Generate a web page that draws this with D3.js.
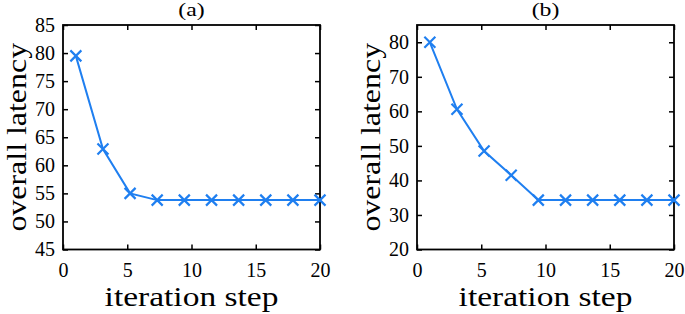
<!DOCTYPE html>
<html>
<head>
<meta charset="utf-8">
<script src="https://cdn.jsdelivr.net/npm/d3@7"></script>
<style>
  body { margin: 0; background: #fff; }
</style>
</head>
<body>
<div id="root"></div>
<script>
// iteration steps (same for both panels)
const steps = [1, 3.11, 5.22, 7.33, 9.44, 11.56, 13.67, 15.78, 17.89, 20]
const latencyA = [79.5, 62.9, 55, 53.8, 53.8, 53.8, 53.8, 53.8, 53.8, 53.8]
const latencyB = [80, 60.6, 48.5, 41.5, 34.3, 34.3, 34.3, 34.3, 34.3, 34.3]
const xTicks = [0, 5, 10, 15, 20]
const yTicksA = [45, 50, 55, 60, 65, 70, 75, 80, 85]
const yTicksB = [20, 30, 40, 50, 60, 70, 80]

const lineColor = '#1f7ff0'
const fontFamily = '"Liberation Serif"'
const svg = d3.select('#root').append('svg')
  .attr('width', 685)
  .attr('height', 314)

const panels = [
  { title: '(a)', values: latencyA, yDomain: [45, 85], yTicks: yTicksA, left: 63, right: 320 },
  { title: '(b)', values: latencyB, yDomain: [20, 85], yTicks: yTicksB, left: 417, right: 674 }
]
const plotTop = 25
const plotBottom = 249.5

// the original uses a wide LaTeX font, so labels get stretched a bit sideways
function label (g, text, size, transform) {
  return g.append('text')
    .attr('transform', transform)
    .attr('text-anchor', 'middle')
    .style('font-family', fontFamily)
    .style('font-size', size + 'px')
    .attr('fill', '#000')
    .text(text)
}

panels.forEach(p => {
  const x = d3.scaleLinear().domain([0, 20]).range([p.left, p.right])
  const y = d3.scaleLinear().domain(p.yDomain).range([plotBottom, plotTop])
  const g = svg.append('g')

  // inward ticks on all four sides
  const axes = [
    [d3.axisBottom(x).tickValues(xTicks).tickSizeInner(-5).tickSizeOuter(0).tickPadding(13), `translate(0,${plotBottom})`],
    [d3.axisTop(x).tickValues(xTicks).tickSizeInner(-5).tickSizeOuter(0).tickFormat(''), `translate(0,${plotTop})`],
    [d3.axisLeft(y).tickValues(p.yTicks).tickSizeInner(-5).tickSizeOuter(0).tickPadding(8), `translate(${p.left},0)`],
    [d3.axisRight(y).tickValues(p.yTicks).tickSizeInner(-5).tickSizeOuter(0).tickFormat(''), `translate(${p.right},0)`]
  ]
  axes.forEach(([ax, tr]) => {
    const a = g.append('g').attr('transform', tr).call(ax)
    a.select('.domain').remove()
    a.selectAll('line').attr('stroke', '#000').attr('stroke-width', 1.5)
    a.selectAll('text')
      .style('font-family', fontFamily)
      .style('font-size', '20px')
      .attr('fill', '#000')
  })

  g.append('rect')
    .attr('x', p.left).attr('y', plotTop)
    .attr('width', p.right - p.left).attr('height', plotBottom - plotTop)
    .attr('fill', 'none').attr('stroke', '#000').attr('stroke-width', 1.8)

  const pts = steps.map((s, i) => [s, p.values[i]])
  g.append('path')
    .datum(pts)
    .attr('fill', 'none')
    .attr('stroke', lineColor)
    .attr('stroke-width', 2)
    .attr('d', d3.line().x(d => x(d[0])).y(d => y(d[1])))

  // x markers
  const s = 5.5
  g.selectAll('.mark')
    .data(pts)
    .join('path')
    .attr('class', 'mark')
    .attr('d', d => {
      const cx = x(d[0]); const cy = y(d[1])
      return `M${cx - s},${cy - s}L${cx + s},${cy + s}M${cx - s},${cy + s}L${cx + s},${cy - s}`
    })
    .attr('stroke', lineColor)
    .attr('stroke-width', 2.2)

  const mid = (p.left + p.right) / 2
  label(g, p.title, 19, `translate(${mid},16) scale(1.25,1)`)
  label(g, 'iteration step', 27, `translate(${mid},306) scale(1.24,1)`)
  label(g, 'overall latency', 28, `translate(${p.left - 37.5},${(plotTop + plotBottom) / 2}) rotate(-90) scale(1.14,1)`)
})
</script>
</body>
</html>
